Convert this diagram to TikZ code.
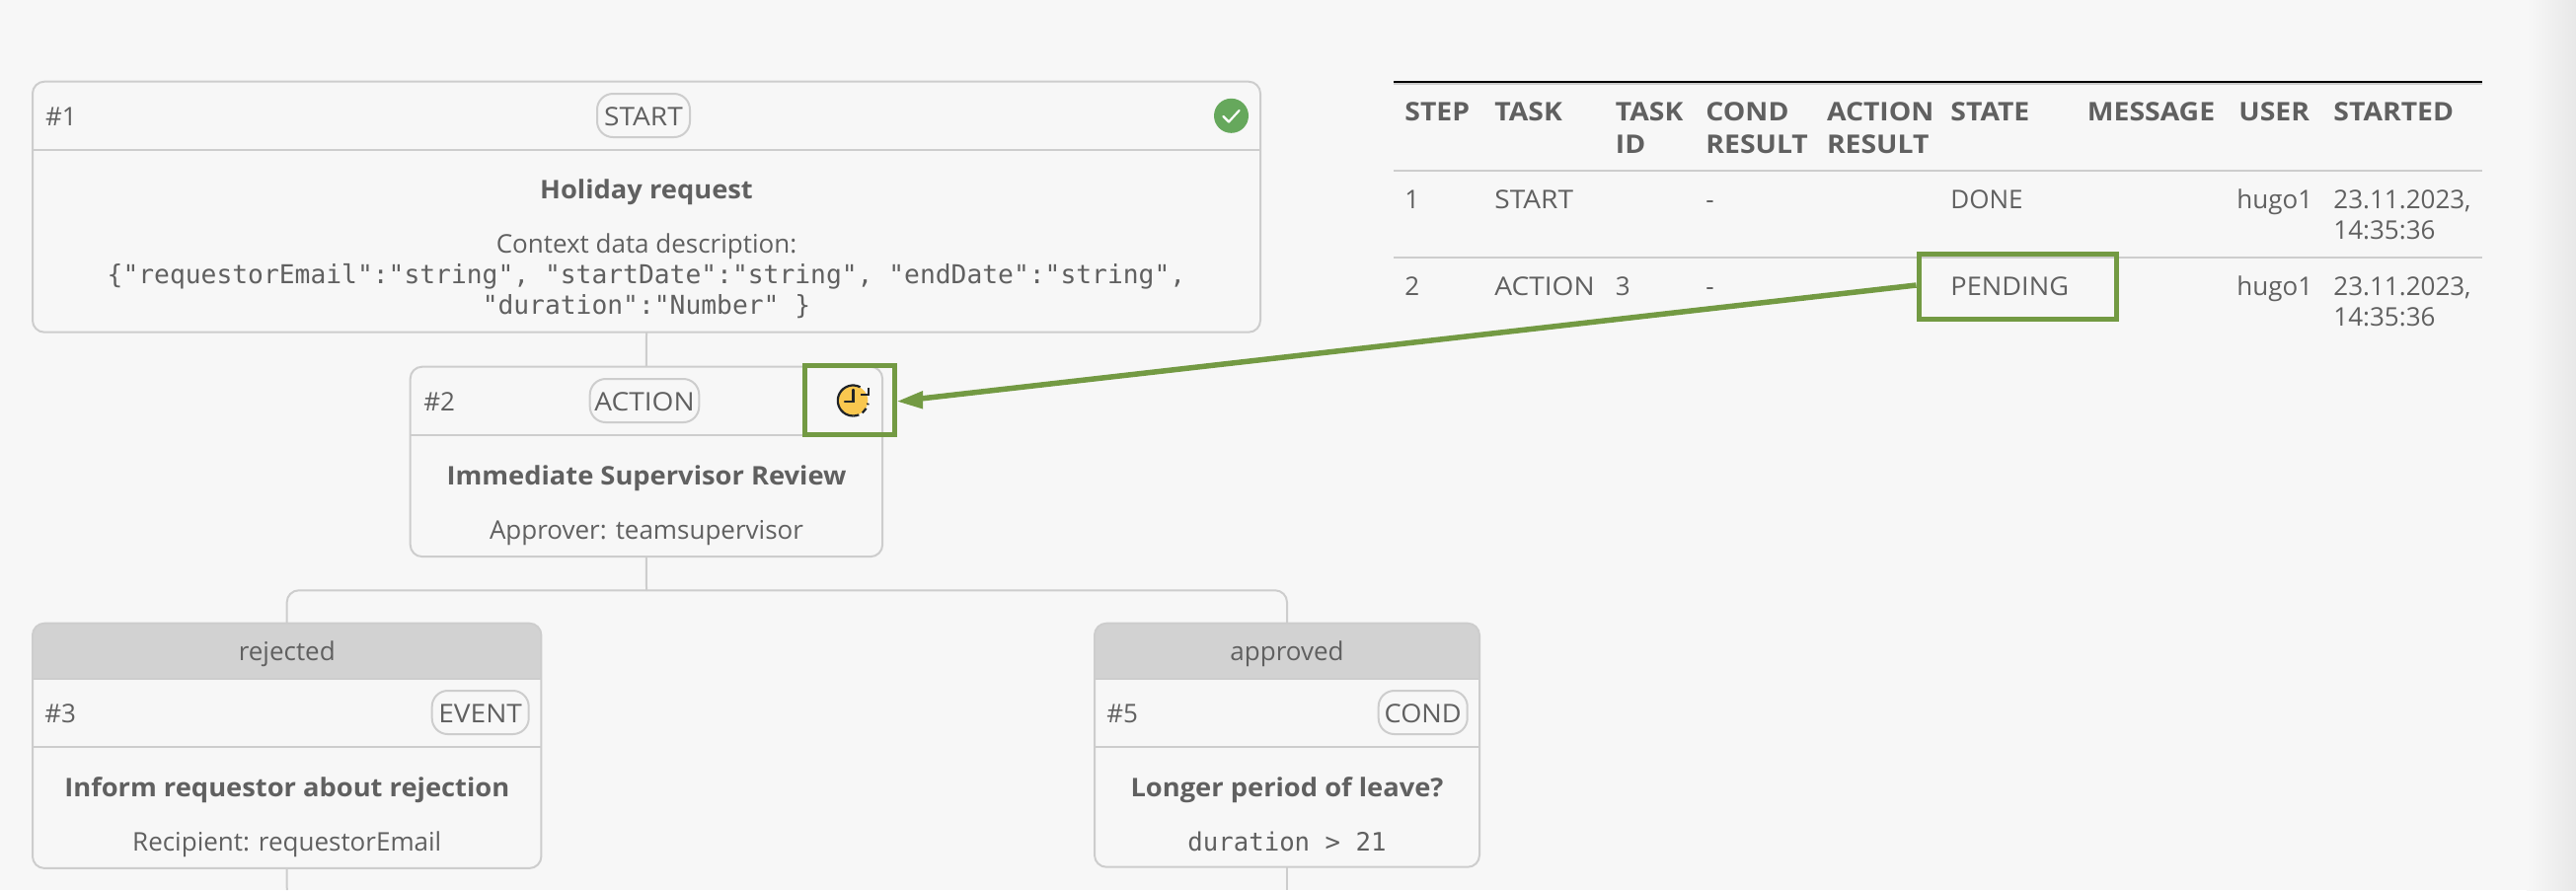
\documentclass[tikz,border=0pt]{standalone}
\usepackage{fontspec}
\setmainfont{Open Sans}
\setmonofont{DejaVu Sans Mono}
\newfontfamily\ttlfam[FakeStretch=1.05]{Open Sans}
\newfontfamily\headfam[FakeStretch=1.09]{Open Sans}
\newfontfamily\capfam[FakeStretch=1.08]{Open Sans}
\newfontfamily\capsmall[FakeStretch=1.045]{Open Sans}
\definecolor{pagebg}{HTML}{F7F7F7}
\definecolor{edgebg}{HTML}{E8E8E8}
\definecolor{ink}{HTML}{606060}
\definecolor{rule}{HTML}{CDCDCD}
\definecolor{headfill}{HTML}{D2D2D2}
\definecolor{hl}{HTML}{739A43}
\definecolor{okgreen}{HTML}{66A85C}
\definecolor{pend}{HTML}{F9C74F}
\definecolor{clockink}{HTML}{1F2328}
\tikzset{
  flowbox/.style={draw=rule,line width=1pt,rounded corners=6pt,inner sep=0pt,outer sep=0pt,anchor=north west},
  pill/.style={draw=rule,line width=1pt,rounded corners=8pt,inner sep=0pt,outer sep=0pt,minimum height=22pt},
  lbl/.style={text=ink,font=\fontsize{13}{16}\selectfont,inner sep=0pt,anchor=base},
  lblw/.style={lbl,anchor=base west},
  capl/.style={lbl,font=\fontsize{13}{16}\capfam\selectfont},
  caps/.style={lbl,font=\fontsize{13}{16}\capsmall\selectfont},
  ttl/.style={lbl,font=\fontsize{13}{16}\ttlfam\selectfont\bfseries},
  thd/.style={lblw,font=\fontsize{13}{16}\headfam\selectfont\bfseries},
  monol/.style={lbl,font=\fontsize{13.15}{16}\selectfont\ttfamily},
  monos/.style={lbl,font=\fontsize{12.85}{16}\selectfont\ttfamily},
  conn/.style={draw=rule,line width=1pt},
  hlbox/.style={draw=hl,line width=2.5pt,inner sep=0pt},
  rowline/.style={draw=rule,line width=1pt}
}
\begin{document}
\begin{tikzpicture}[x=0.5pt,y=-0.5pt]
\useasboundingbox (0,0) rectangle (2610,902);
\fill[pagebg] (0,0) rectangle (2610,902);
\shade[left color=pagebg,right color=edgebg] (2560,0) rectangle (2610,902);
% gray headers
\fill[headfill,rounded corners=6pt] (33,632) rectangle (548.5,700);
\fill[pagebg] (33,688) rectangle (548.5,702);
\fill[headfill,rounded corners=6pt] (1109,632) rectangle (1499,700);
\fill[pagebg] (1109,688) rectangle (1499,702);
% boxes
\node[flowbox,minimum width=622pt,minimum height=127pt] (b1) at (33,82.7) {};
\node[flowbox,minimum width=239.2pt,minimum height=96.2pt] (b2) at (415.7,371.7) {};
\node[flowbox,minimum width=257.7pt,minimum height=124.1pt] (b3) at (33,631.7) {};
\node[flowbox,minimum width=195pt,minimum height=123.5pt] (b5) at (1109,631.7) {};
% dividers
\coordinate (d1) at (33,151.7);
\coordinate (d2) at (415.7,440.7);
\coordinate (h3) at (33,688);
\coordinate (d3) at (33,756.7);
\coordinate (h5) at (1109,688);
\coordinate (d5) at (1109,756.7);
\draw[conn] (d1) -- (d1 -| b1.east);
\draw[conn] (d2) -- (d2 -| b2.east);
\draw[conn] (h3) -- (h3 -| b3.east);
\draw[conn] (d3) -- (d3 -| b3.east);
\draw[conn] (h5) -- (h5 -| b5.east);
\draw[conn] (d5) -- (d5 -| b5.east);
% connectors
\coordinate (branch) at (655,598.3);
\coordinate (end3) at (290.75,902);
\coordinate (end5) at (1304,902);
\draw[conn] (b1.south) -- (b2.north);
\draw[conn] (b2.south) -- (branch);
\draw[conn,rounded corners=6pt] (b3.north) |- (branch);
\draw[conn,rounded corners=6pt] (b5.north) |- (branch);
\draw[conn] (b3.south) -- (end3);
\draw[conn] (b5.south) -- (end5);
% box 1
\node[lblw] (n1) at (45.6,127.7) {\#1};
\node[pill,minimum width=47pt] (p1) at (652,117) {};
\node[capl] (t1) at (652,127.7) {START};
\node[ttl] (h1) at (655,201.7) {Holiday request};
\node[lbl] (c1) at (655,256.7) {Context data description:};
\node[monol] (c2) at (655,287) {\{"requestorEmail":"string", "startDate":"string", "endDate":"string",};
\node[monol] (c3) at (655,318) {"duration":"Number" \}};
\node[circle,fill=okgreen,minimum size=17.5pt,inner sep=0pt] (ok) at (1247.5,117.3) {};
\draw[white,line width=1.1pt,line cap=round,line join=round] (1239.5,118) -- (1245,123.5) -- (1255.5,112);
% box 2
\node[lblw] (n2) at (429,416) {\#2};
\node[pill,minimum width=55.3pt] (p2) at (653,406) {};
\node[capl] (t2) at (653,416) {ACTION};
\node[ttl] (h2) at (655,491.7) {Immediate Supervisor Review};
\node[lbl] (c4) at (655,546) {Approver: teamsupervisor};
\node[circle,fill=pend,minimum size=15pt,inner sep=0pt] (clock) at (864.3,406) {};
\draw[clockink,line width=1.1pt] (864.3,406) ++(-62:15.5) arc[start angle=-62,end angle=-270,radius=15.5];
\draw[clockink,line width=1.1pt,dash pattern=on 3pt off 2pt] (864.3,421.5) arc[start angle=90,end angle=10,radius=15.5];
\draw[clockink,line width=1.1pt] (872,400) -- (880,400) -- (880,393);
\draw[clockink,line width=1.2pt,line cap=round] (864.3,395) -- (864.3,407) -- (856,407);
% box 3
\node[lbl] (g3) at (290.75,669) {rejected};
\node[lblw] (n3) at (45,732) {\#3};
\node[pill,minimum width=49pt] (p3) at (486.7,722) {};
\node[capl] (t3) at (486.7,732) {EVENT};
\node[ttl] (h3t) at (290.75,807) {Inform requestor about rejection};
\node[lbl] (c5) at (290.75,862) {Recipient: requestorEmail};
% box 5
\node[lbl] (g5) at (1304,669) {approved};
\node[lblw] (n5) at (1121,732) {\#5};
\node[pill,minimum width=45pt] (p5) at (1441.7,722) {};
\node[caps] (t5) at (1441.7,732) {COND};
\node[ttl] (h5t) at (1304,807) {Longer period of leave?};
\node[monos] (c6) at (1304,862) {duration > 21};
% table
\coordinate (tl) at (1412,83);
\coordinate (tr) at (2515,83);
\coordinate (r1) at (1412,173);
\coordinate (r2) at (1412,261);
\draw[rule,line width=1pt] (1412,85) -- (2515,85);
\draw[black,line width=1pt] (tl) -- (tr);
\draw[rowline] (r1) -- (r1 -| tr);
\draw[rowline] (r2) -- (r2 -| tr);
\node[thd] (a1) at (1423,122) {STEP};
\node[thd] (a2) at (1514,122) {TASK};
\node[thd] (a3) at (1636.5,122) {TASK};
\node[thd] (a3b) at (1636.5,155) {ID};
\node[thd] (a4) at (1728,122) {COND};
\node[thd] (a4b) at (1728,155) {RESULT};
\node[thd] (a5) at (1850.6,122) {ACTION};
\node[thd] (a5b) at (1850.6,155) {RESULT};
\node[thd] (a6) at (1976,122) {STATE};
\node[thd] (a7) at (2114.5,122) {MESSAGE};
\node[thd] (a8) at (2268,122) {USER};
\node[thd] (a9) at (2364,122) {STARTED};
\node[lblw] (r11) at (1423,211) {1};
\node[capl,anchor=base west] (r12) at (1514,211) {START};
\node[lblw] (r14) at (1728,211) {-};
\node[lblw] (r16) at (1976,211) {DONE};
\node[lblw] (r18) at (2266,211) {hugo1};
\node[lblw] (r19) at (2364,211) {23.11.2023,};
\node[lblw] (r19b) at (2364,242.7) {14:35:36};
\node[lblw] (r21) at (1423,299) {2};
\node[capl,anchor=base west] (r22) at (1514,299) {ACTION};
\node[lblw] (r23) at (1636.5,299) {3};
\node[lblw] (r24) at (1728,299) {-};
\node[caps,anchor=base west] (r26) at (1976,299) {PENDING};
\node[lblw] (r28) at (2266,299) {hugo1};
\node[lblw] (r29) at (2364,299) {23.11.2023,};
\node[lblw] (r29b) at (2364,330.7) {14:35:36};
% highlights
\node[hlbox,minimum width=100.25pt,minimum height=32.75pt] (mp) at (2044.25,290.25) {};
\node[hlbox,minimum width=45.5pt,minimum height=35pt] (mc) at (861,405.5) {};
\draw[hl,line width=2.75pt] (mp.west |- 0,289) -- (930,404.3);
\fill[hl] (909.6,406.7) -- (935,396) -- (935,414.5) -- cycle;
\end{tikzpicture}
\end{document}
